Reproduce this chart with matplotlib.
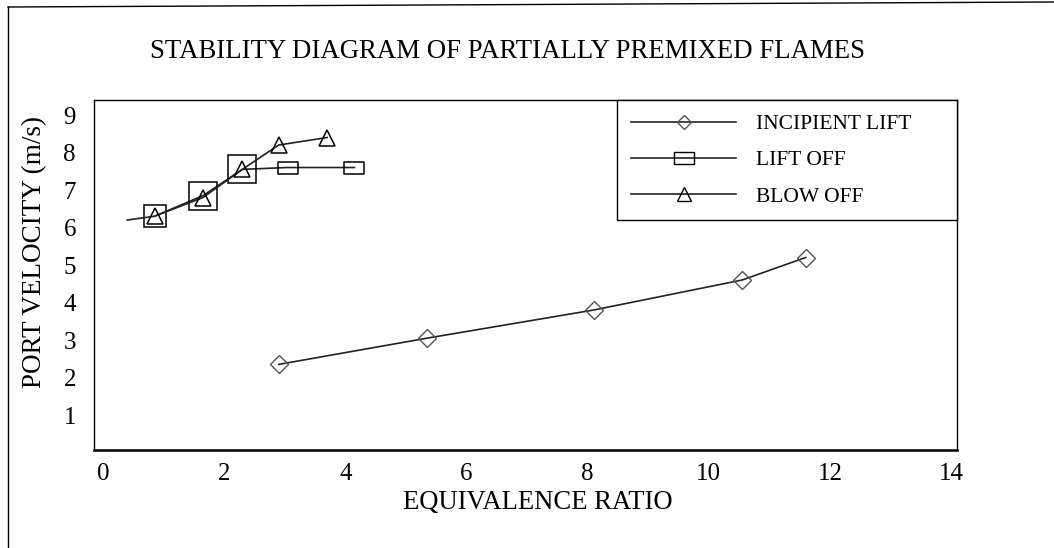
import matplotlib.pyplot as plt
from matplotlib.lines import Line2D
from matplotlib.path import Path

plt.rcParams['font.family'] = ['Liberation Serif', 'DejaVu Serif']

incipient_x = [2.9, 5.35, 8.1, 10.55, 11.6]
incipient_y = [2.35, 3.05, 3.8, 4.6, 5.2]

liftoff_x = [0.85, 1.65, 2.3, 3.05, 4.15]
liftoff_y = [6.3, 6.85, 7.55, 7.6, 7.6]

# el primer punto es solo el inicio de la curva (sin marcador)
blowoff_x = [0.4, 0.85, 1.65, 2.3, 2.9, 3.7]
blowoff_y = [6.2, 6.3, 6.8, 7.55, 8.2, 8.4]

x_ticks = [0, 2, 4, 6, 8, 10, 12, 14]
y_ticks = [1, 2, 3, 4, 5, 6, 7, 8, 9]

labels = ["INCIPIENT LIFT", "LIFT OFF", "BLOW OFF"]

# marcador rectangular (mas ancho que alto)
rect = Path([(-1, -0.58), (1, -0.58), (1, 0.58), (-1, 0.58), (-1, -0.58)],
            [Path.MOVETO, Path.LINETO, Path.LINETO, Path.LINETO, Path.CLOSEPOLY])

fig = plt.figure(figsize=(10.54, 5.48), dpi=100)
ax = fig.add_axes([0.0892, 0.1788, 0.8188, 0.6387])

ax.plot(incipient_x, incipient_y, color='#222222', lw=1.2,
        marker='D', ms=9, mfc='none', mec='#555555', mew=1)
ax.plot(liftoff_x, liftoff_y, color='#222222', lw=1.2,
        marker=rect, ms=14, mfc='none', mec='black', mew=1.1, markevery=[3, 4])
ax.plot(liftoff_x[:1], liftoff_y[:1], ls='none',
        marker='s', ms=15.5, mfc='none', mec='black', mew=1.1)
ax.plot(liftoff_x[1:3], liftoff_y[1:3], ls='none',
        marker='s', ms=19.5, mfc='none', mec='black', mew=1.1)
ax.plot(blowoff_x, blowoff_y, color='#222222', lw=1.2,
        marker='^', ms=11, mfc='none', mec='black', mew=1.1,
        markevery=list(range(1, len(blowoff_x))))

ax.set_xlim(-0.149, 14.099)
ax.set_ylim(0.067, 9.4)
ax.set_xticks(x_ticks)
ax.set_yticks(y_ticks)
ax.tick_params(length=0, labelsize=18)
ax.tick_params(axis='x', pad=9)
ax.tick_params(axis='y', pad=13)
for s in ax.spines.values():
    s.set_linewidth(1)
ax.spines['bottom'].set_linewidth(1.8)

ax.set_xlabel("EQUIVALENCE RATIO", fontsize=19.2)
ax.set_ylabel("PORT VELOCITY (m/s)", fontsize=19.5)
ax.xaxis.set_label_coords(0.514, -0.115)
ax.yaxis.set_label_coords(-0.054, 0.566)

fig.text(507 / 1054, 1 - 52 / 548, "STABILITY DIAGRAM OF PARTIALLY PREMIXED FLAMES",
         fontsize=19.3, ha='center', va='center')

handles = [
    Line2D([], [], color='#222222', lw=1.2, marker='D', ms=7, mfc='none', mec='#555555'),
    Line2D([], [], color='#222222', lw=1.2, marker=rect, ms=14, mfc='none', mec='black'),
    Line2D([], [], color='#222222', lw=1.2, marker='^', ms=10, mfc='none', mec='black'),
]
leg = ax.legend(handles, labels, loc='upper left', bbox_to_anchor=(0.606, 1.0, 0.394, 0.0),
                mode='expand', fontsize=15.5, handlelength=4.9, handletextpad=0.9,
                labelspacing=0.75, borderpad=0.65, borderaxespad=0, fancybox=False,
                framealpha=1, edgecolor='black')
leg.get_frame().set_linewidth(1)

# marco de la imagen original
fig.add_artist(Line2D([8 / 1054, 8 / 1054], [0, 1 - 7 / 548], color='black', lw=1,
                      transform=fig.transFigure))
fig.add_artist(Line2D([8 / 1054, 1], [1 - 7 / 548, 1 - 2 / 548], color='black', lw=1,
                      transform=fig.transFigure))

plt.savefig("out.png", dpi=100)
